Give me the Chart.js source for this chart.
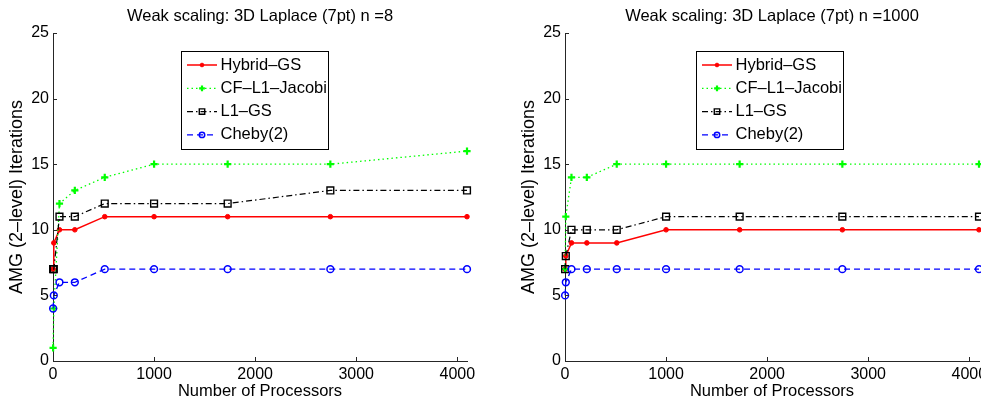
<!DOCTYPE html>
<html>
<head>
<meta charset="utf-8">
<title>Weak scaling</title>
<script src="https://cdn.jsdelivr.net/npm/chart.js@4/dist/chart.umd.min.js"></script>
<style>
    body { margin: 0; width: 981px; height: 402px; overflow: hidden; background: #fff; position: relative; }
    .panel { position: absolute; top: 0; width: 512px; height: 402px; }
</style>
</head>
<body>
<div class="panel" style="left:0"><canvas id="chartN8" width="512" height="402"></canvas></div>
<div class="panel" style="left:512px"><canvas id="chartN1000" width="512" height="402"></canvas></div>
<script>
let processors = [1, 8, 64, 216, 512, 1000, 1728, 2744, 4096];

// n = 8 per processor
let hybridGS8 = [7, 9, 10, 10, 11, 11, 11, 11, 11];
let cfJacobi8 = [1, 4, 12, 13, 14, 15, 15, 15, 16];
let l1GS8 = [7, 7, 11, 11, 12, 12, 12, 13, 13];
let cheby8 = [4, 5, 6, 6, 7, 7, 7, 7, 7];

// n = 1000 per processor
let hybridGS1000 = [7, 8, 9, 9, 9, 10, 10, 10, 10];
let cfJacobi1000 = [7, 11, 14, 14, 15, 15, 15, 15, 15];
let l1GS1000 = [7, 8, 10, 10, 10, 11, 11, 11, 11];
let cheby1000 = [5, 6, 7, 7, 7, 7, 7, 7, 7];

let seriesNames = ['Hybrid–GS', 'CF–L1–Jacobi', 'L1–GS', 'Cheby(2)'];
let xTicks = [0, 1000, 2000, 3000, 4000];
let yTicks = [0, 5, 10, 15, 20, 25];

let fontFamily = "'Liberation Sans', Arial, Helvetica, sans-serif";

let lineStyles = [
    { color: '#ff0000', dash: [], width: 1.5, point: 'circle', radius: 2.3, fill: '#ff0000', pointWidth: 1, order: 4 },
    { color: '#00ff00', dash: [1.5, 3], width: 1.3, point: 'cross', radius: 3.6, fill: '#00ff00', pointWidth: 2.2, order: 3 },
    { color: '#000000', dash: [6, 3, 1.5, 3], width: 1.2, point: 'rect', radius: 4.8, fill: 'rgba(0,0,0,0)', pointWidth: 1.4, order: 2 },
    { color: '#0000ff', dash: [6, 4], width: 1.3, point: 'circle', radius: 3.4, fill: 'rgba(0,0,0,0)', pointWidth: 1.5, order: 1 }
];

// matlab style tick marks pointing into the plot
const inwardTicks = {
    id: 'inwardTicks',
    afterDatasetsDraw(chart) {
        const { ctx, chartArea, scales } = chart;
        ctx.save();
        ctx.strokeStyle = '#262626';
        ctx.lineWidth = 1;
        ctx.beginPath();
        scales.x.ticks.forEach(t => {
            const px = Math.round(scales.x.getPixelForValue(t.value)) + 0.5;
            ctx.moveTo(px, chartArea.bottom);
            ctx.lineTo(px, chartArea.bottom - 4);
        });
        scales.y.ticks.forEach(t => {
            const py = Math.round(scales.y.getPixelForValue(t.value)) + 0.5;
            ctx.moveTo(chartArea.left, py);
            ctx.lineTo(chartArea.left + 4, py);
        });
        ctx.stroke();
        ctx.restore();
    }
};

// boxed legend sitting inside the axes
const boxLegend = {
    id: 'boxLegend',
    afterDraw(chart, args, opts) {
        const ctx = chart.ctx;
        const left = Math.round(chart.chartArea.left + opts.x);
        const top = Math.round(chart.chartArea.top + opts.y);
        ctx.save();
        ctx.fillStyle = '#fff';
        ctx.fillRect(left, top, opts.width, opts.height);
        ctx.strokeStyle = '#000';
        ctx.lineWidth = 1;
        ctx.strokeRect(left + 0.5, top + 0.5, opts.width, opts.height);

        chart.data.datasets.forEach((ds, i) => {
            const y = top + 14 + i * 23.3;
            ctx.setLineDash(ds.borderDash);
            ctx.strokeStyle = ds.borderColor;
            ctx.lineWidth = ds.borderWidth;
            ctx.beginPath();
            ctx.moveTo(left + 6, y);
            ctx.lineTo(left + 36, y);
            ctx.stroke();
            ctx.setLineDash([]);
            ctx.fillStyle = ds.pointBackgroundColor;
            ctx.lineWidth = ds.pointBorderWidth;
            Chart.helpers.drawPoint(ctx, { pointStyle: ds.pointStyle, radius: ds.pointRadius * 0.8, borderWidth: ds.pointBorderWidth, rotation: 0 }, left + 21, y);

            ctx.fillStyle = '#000';
            ctx.font = `16.5px ${fontFamily}`;
            ctx.textBaseline = 'middle';
            ctx.fillText(ds.label, left + 39.5, y);
        });
        ctx.restore();
    }
};

function makeChart(canvasId, titleText, seriesData, legendX) {
    let datasets = seriesData.map((values, i) => {
        const s = lineStyles[i];
        return {
            label: seriesNames[i],
            data: processors.map((p, j) => ({ x: p, y: values[j] })),
            borderColor: s.color,
            borderWidth: s.width,
            borderDash: s.dash,
            pointStyle: s.point,
            pointRadius: s.radius,
            pointBorderWidth: s.pointWidth,
            pointBorderColor: s.color,
            pointBackgroundColor: s.fill,
            tension: 0,
            clip: false,
            order: s.order
        };
    });

    return new Chart(document.getElementById(canvasId), {
        type: 'line',
        data: { datasets: datasets },
        options: {
            responsive: false,
            animation: false,
            layout: { padding: { left: 0, right: 45, top: 0, bottom: 0 } },
            scales: {
                x: {
                    type: 'linear',
                    min: 0,
                    max: 4096,
                    afterBuildTicks: scale => { scale.ticks = xTicks.map(v => ({ value: v })); },
                    afterFit: scale => { scale.height = 41; },
                    grid: { display: false, drawTicks: false },
                    border: { display: true, color: '#262626', width: 1 },
                    ticks: { color: '#000', padding: 4, maxRotation: 0, callback: v => String(v), font: { size: 16, family: fontFamily } },
                    title: { display: true, text: 'Number of Processors', color: '#000', padding: { top: 0, bottom: 1 }, font: { size: 16.5, family: fontFamily } }
                },
                y: {
                    min: 0,
                    max: 25,
                    afterBuildTicks: scale => { scale.ticks = yTicks.map(v => ({ value: v })); },
                    afterFit: scale => { scale.width = 53; },
                    grid: { display: false, drawTicks: false },
                    border: { display: true, color: '#262626', width: 1 },
                    ticks: { color: '#000', padding: 4, callback: v => String(v), font: { size: 16, family: fontFamily } },
                    title: { display: true, text: 'AMG (2–level) Iterations', color: '#000', padding: { top: 6, bottom: 0 }, font: { size: 18, family: fontFamily } }
                }
            },
            plugins: {
                legend: { display: false },
                tooltip: { enabled: false },
                title: {
                    display: true,
                    text: titleText,
                    color: '#000',
                    fullSize: false,
                    padding: { top: 7, bottom: 6.2 },
                    font: { size: 16.5, weight: 'normal', family: fontFamily }
                },
                boxLegend: { x: legendX, y: 18, width: 147, height: 98 }
            }
        },
        plugins: [inwardTicks, boxLegend]
    });
}

makeChart('chartN8', 'Weak scaling: 3D Laplace (7pt) n =8', [hybridGS8, cfJacobi8, l1GS8, cheby8], 128);
makeChart('chartN1000', 'Weak scaling: 3D Laplace (7pt) n =1000', [hybridGS1000, cfJacobi1000, l1GS1000, cheby1000], 131);
</script>
</body>
</html>
